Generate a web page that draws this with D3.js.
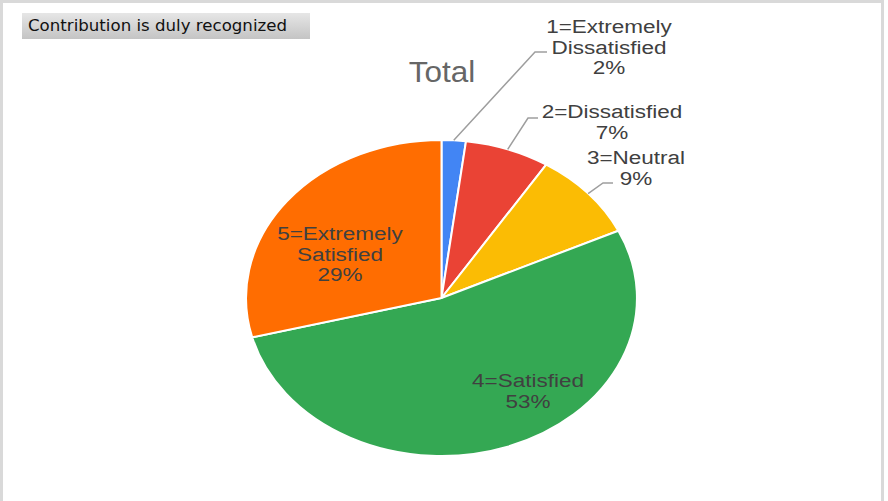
<!DOCTYPE html>
<html><head><meta charset="utf-8">
<script src="https://cdn.jsdelivr.net/npm/d3@7"></script>
<style>html,body{margin:0;padding:0;background:#fff;}svg{display:block;}</style>
</head><body>
<svg id="c" width="888" height="501"></svg>
<script>
// ---- data ----
const categories = ["1=Extremely Dissatisfied", "2=Dissatisfied", "3=Neutral", "4=Satisfied", "5=Extremely Satisfied"];
const labelLines = [["1=Extremely", "Dissatisfied"], ["2=Dissatisfied"], ["3=Neutral"], ["4=Satisfied"], ["5=Extremely", "Satisfied"]];
const values = [2, 7, 9, 53, 29];
const colors = ["#4285F4", "#EA4335", "#FBBC04", "#34A853", "#FF6D01"];
const chartTitle = "Total";
const boxTitle = "Contribution is duly recognized";

// ---- layout (not data) ----
const cx = 441.5, cy = 298, ry = 158, sx = 1.237;
const textSX = 1.25;
const outside = {
  0: {elbow: [535, 52], endX: 547, tx: 609, ty: 33},
  1: {elbow: [528, 118], endX: 538, tx: 612, ty: 118},
  2: {elbow: [603, 183], endX: 613, tx: 636, ty: 164}
};
const inside = {
  3: {tx: 528, ty: 387},
  4: {tx: 340, ty: 240}
};
const lineH = 20.5;

const svg = d3.select("#c");
const defs = svg.append("defs");
const g1 = defs.append("linearGradient").attr("id", "tb").attr("x1", 0).attr("y1", 0).attr("x2", 0).attr("y2", 1);
g1.append("stop").attr("offset", "0%").attr("stop-color", "#e6e6e6");
g1.append("stop").attr("offset", "100%").attr("stop-color", "#c4c4c4");

// frame
svg.append("rect").attr("x", 1.5).attr("y", 1.5).attr("width", 881).attr("height", 520)
  .attr("fill", "none").attr("stroke", "#d9d9d9").attr("stroke-width", 3);

// title box
svg.append("rect").attr("x", 22).attr("y", 13).attr("width", 288).attr("height", 26).attr("fill", "url(#tb)");
svg.append("text").attr("x", 28).attr("y", 31).attr("font-family", "DejaVu Sans, Verdana, sans-serif")
  .attr("font-size", 15).attr("fill", "#111111").attr("textLength", 259).attr("lengthAdjust", "spacingAndGlyphs")
  .text(boxTitle);

// chart title
svg.append("text").attr("transform", `translate(442,82) scale(1.085,1)`).attr("text-anchor", "middle")
  .attr("font-family", "Liberation Sans, Arial, sans-serif").attr("font-size", 29).attr("fill", "#666666")
  .text(chartTitle);

// pie
const pie = d3.pie().sort(null).value(d => d)(values);
const arc = d3.arc().innerRadius(0).outerRadius(ry);
const pg = svg.append("g").attr("transform", `translate(${cx},${cy}) scale(${sx},1)`);
pg.selectAll("path").data(pie).join("path")
  .attr("d", arc).attr("fill", (d, i) => colors[i])
  .attr("stroke", "#fff").attr("stroke-width", 2).attr("vector-effect", "non-scaling-stroke");

// labels
const lg = svg.append("g").attr("font-family", "Liberation Sans, Arial, sans-serif").attr("font-size", 18).attr("fill", "#404040");
pie.forEach((d, i) => {
  const mid = (d.startAngle + d.endAngle) / 2;
  const lines = labelLines[i].concat([values[i] + "%"]);
  let pos;
  if (outside[i]) {
    pos = outside[i];
    const p0 = [cx + Math.sin(mid) * ry * sx, cy - Math.cos(mid) * ry];
    svg.append("polyline")
      .attr("points", [p0, pos.elbow, [pos.endX, pos.elbow[1]]].map(p => p.join(",")).join(" "))
      .attr("fill", "none").attr("stroke", "#9e9e9e").attr("stroke-width", 1.5);
  } else {
    pos = inside[i];
  }
  lines.forEach((t, k) => {
    lg.append("text").attr("text-anchor", "middle")
      .attr("transform", `translate(${pos.tx},${pos.ty + k * lineH}) scale(${textSX},1)`)
      .text(t);
  });
});
</script>
</body></html>
